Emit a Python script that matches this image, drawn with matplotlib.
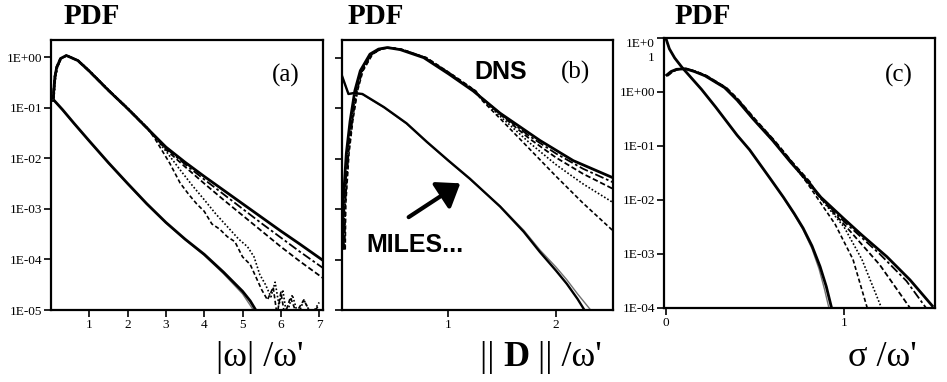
import numpy as np
import matplotlib
matplotlib.use("Agg")
import matplotlib.pyplot as plt
from matplotlib.ticker import NullLocator, FixedLocator, FixedFormatter

SERIF = ["Liberation Serif", "DejaVu Serif"]
SANS = ["Liberation Sans", "DejaVu Sans"]
plt.rcParams["font.family"] = SERIF

# ---------------- data (log10 of PDF values) ----------------
# Panel (a): |omega| / omega'
a_x = [0.05, 0.1, 0.15, 0.25, 0.4, 0.7, 1.0, 1.5, 2.0, 2.5, 3.0, 3.5, 4.0, 4.5, 5.0, 5.5, 6.0, 6.5, 7.1]
a_dns = [-0.88, -0.4, -0.2, -0.03, 0.03, -0.07, -0.28, -0.66, -1.02, -1.4, -1.78, -2.08, -2.36, -2.63, -2.9, -3.17, -3.44, -3.7, -4.02]
a_v1_x = [2.7, 3.0, 3.5, 4.0, 4.5, 5.0, 5.5, 6.0, 6.5, 7.1]
a_v1 = [-1.56, -1.8, -2.12, -2.42, -2.71, -3.0, -3.29, -3.57, -3.85, -4.17]
a_v2_x = [2.7, 3.0, 3.5, 4.0, 4.5, 5.0, 5.5, 6.0, 6.5, 7.1]
a_v2 = [-1.57, -1.83, -2.17, -2.5, -2.82, -3.13, -3.44, -3.75, -4.04, -4.37]
a_v3_x = [2.7, 3.0, 3.37, 3.7, 4.0, 4.3, 4.6, 4.9, 5.13, 5.3, 5.45, 5.6, 5.74, 5.85, 5.95, 6.05, 6.15, 6.3, 6.45, 6.6, 6.8, 7.0]
a_v3 = [-1.58, -1.86, -2.23, -2.55, -2.82, -3.1, -3.35, -3.6, -3.75, -3.95, -4.3, -4.5, -4.74, -4.45, -4.9, -4.6, -5.1, -4.7, -5.1, -4.8, -5.1, -4.85]
a_v4_x = [2.7, 2.9, 3.1, 3.37, 3.6, 3.8, 4.0, 4.2, 4.4, 4.6, 4.8, 5.0, 5.2, 5.35, 5.5, 5.65, 5.8, 5.9, 6.0, 6.1, 6.25, 6.4, 6.6, 6.8, 7.0]
a_v4 = [-1.6, -1.85, -2.1, -2.49, -2.72, -2.9, -3.05, -3.3, -3.4, -3.55, -3.65, -3.95, -4.1, -4.35, -4.6, -4.8, -4.55, -5.1, -4.65, -5.1, -4.75, -5.05, -4.8, -5.1, -4.9]
a_miles_x = [0.06, 0.3, 0.6, 1.0, 1.5, 2.0, 2.5, 3.0, 3.5, 4.0, 4.5, 5.0, 5.2, 5.36]
a_miles = [-0.84, -1.04, -1.31, -1.66, -2.09, -2.5, -2.9, -3.27, -3.6, -3.9, -4.25, -4.63, -4.82, -5.02]
a_miles2_x = [0.06, 0.3, 0.6, 1.0, 1.5, 2.0, 2.5, 3.0, 3.5, 4.0, 4.5, 5.0, 5.15, 5.3]
a_miles2 = [-0.85, -1.05, -1.32, -1.67, -2.1, -2.51, -2.91, -3.28, -3.61, -3.92, -4.28, -4.68, -4.85, -5.02]

# Panel (b): ||D|| / omega'
b_x = [0.015, 0.02, 0.05, 0.085, 0.13, 0.18, 0.27, 0.35, 0.43, 0.55, 0.77, 1.0, 1.23, 1.48, 1.85, 2.16, 2.53]
b_dns = [-3.8, -2.9, -1.9, -1.26, -0.65, -0.26, 0.07, 0.17, 0.2, 0.16, 0.0, -0.32, -0.66, -1.1, -1.64, -2.04, -2.38]
b_tail_x = [1.3, 1.5, 1.75, 2.0, 2.25, 2.53]
b_v1 = [-0.78, -1.14, -1.55, -1.9, -2.2, -2.47]
b_v2 = [-0.79, -1.16, -1.6, -1.98, -2.3, -2.6]
b_v3 = [-0.8, -1.2, -1.68, -2.12, -2.5, -2.87]
b_v4 = [-0.82, -1.25, -1.8, -2.35, -2.88, -3.43]
b_miles_x = [0.01, 0.07, 0.12, 0.2, 0.4, 0.61, 0.8, 1.0, 1.2, 1.48, 1.7, 1.85, 2.0, 2.1, 2.2, 2.27]
b_miles = [-0.36, -0.72, -0.7, -0.72, -0.98, -1.3, -1.67, -2.04, -2.4, -2.95, -3.45, -3.85, -4.22, -4.48, -4.78, -5.02]
b_miles2_x = [0.01, 0.07, 0.12, 0.2, 0.4, 0.61, 0.8, 1.0, 1.2, 1.48, 1.7, 1.85, 2.0, 2.1, 2.2, 2.33]
b_miles2 = [-0.37, -0.72, -0.71, -0.73, -0.99, -1.31, -1.68, -2.05, -2.41, -2.94, -3.42, -3.81, -4.15, -4.4, -4.68, -5.02]

# Panel (c): sigma / omega'
c_x = [0.0, 0.03, 0.06, 0.11, 0.16, 0.22, 0.33, 0.4, 0.49, 0.6, 0.7, 0.8, 0.87, 1.0, 1.1, 1.24, 1.37, 1.5]
c_dns = [0.3, 0.38, 0.42, 0.43, 0.38, 0.3, 0.08, -0.15, -0.5, -0.9, -1.3, -1.67, -1.95, -2.35, -2.65, -3.05, -3.48, -3.98]
c_v1_x = [0.87, 1.0, 1.2, 1.35, 1.46]
c_v1 = [-1.96, -2.4, -3.0, -3.5, -4.0]
c_v2_x = [0.85, 1.0, 1.2, 1.37]
c_v2 = [-1.9, -2.45, -3.2, -4.0]
c_v3_x = [0.8, 1.0, 1.1, 1.21]
c_v3 = [-1.7, -2.5, -3.1, -4.0]
c_v4_x = [0.8, 0.95, 1.05, 1.13]
c_v4 = [-1.72, -2.45, -3.1, -4.0]
c_miles_x = [0.0, 0.02, 0.05, 0.09, 0.2, 0.28, 0.4, 0.47, 0.585, 0.66, 0.72, 0.77, 0.82, 0.865, 0.9, 0.93]
c_miles = [1.0, 0.8, 0.63, 0.46, 0.05, -0.28, -0.8, -1.07, -1.6, -1.95, -2.25, -2.52, -2.85, -3.23, -3.6, -4.0]
c_miles2_x = [0.0, 0.02, 0.05, 0.09, 0.2, 0.28, 0.4, 0.47, 0.585, 0.66, 0.72, 0.77, 0.82, 0.86, 0.89, 0.915]
c_miles2 = [1.0, 0.8, 0.63, 0.46, 0.05, -0.28, -0.8, -1.07, -1.6, -1.96, -2.27, -2.55, -2.9, -3.28, -3.65, -4.0]

a_xticks = [1, 2, 3, 4, 5, 6, 7]
b_xticks = [1, 2]
c_xticks = [0, 1]
a_ylabels = ["1E-05", "1E-04", "1E-03", "1E-02", "1E-01", "1E+00"]
c_ylabels = ["1E-04", "1E-03", "1E-02", "1E-01", "1E+00", "1E+0\n1"]

# ---------------- figure ----------------
W, H = 947, 382
fig = plt.figure(figsize=(W / 100, H / 100), dpi=100)


def rect(l, t, r, b):
    return [l / W, 1 - b / H, (r - l) / W, (b - t) / H]


axA = fig.add_axes(rect(51, 40, 323, 310))
axB = fig.add_axes(rect(342, 40, 613, 310))
axC = fig.add_axes(rect(664, 38, 935, 308))

MAIN = dict(color="black", lw=2.0, solid_capstyle="butt")
GRAY = dict(color="#707070", lw=1.0)
VSTY = [dict(color="black", lw=1.3, ls=(0, (5, 1.5, 1.5, 1.5))),
        dict(color="black", lw=1.3, ls=(0, (3, 1.5))),
        dict(color="black", lw=1.2, ls=(0, (1, 1.2))),
        dict(color="black", lw=1.2, ls=(0, (2.5, 1.5)))]


def P(v):
    return 10 ** np.asarray(v, dtype=float)


def head_tail(hx, hy, tx, ty, dx=0.0):
    hx = np.asarray(hx, float)
    hy = np.asarray(hy, float)
    m = hx < tx[0]
    return np.concatenate([hx[m] + dx, tx]), np.concatenate([hy[m], ty])


# Panel (a)
for (tx, ty), st, dx in zip([(a_v1_x, a_v1), (a_v2_x, a_v2), (a_v3_x, a_v3), (a_v4_x, a_v4)], VSTY,
                            [0.015, -0.01, 0.02, 0.005]):
    x, y = head_tail(a_x, a_dns, tx, ty, dx)
    axA.plot(x, P(y), **st)
axA.plot(a_x, P(a_dns), **MAIN)
axA.plot(a_miles2_x, P(a_miles2), **GRAY)
axA.plot(a_miles_x, P(a_miles), **MAIN)

# Panel (b)
for ty, st, dx in zip([b_v1, b_v2, b_v3, b_v4], VSTY, [0.012, 0.02, 0.008, 0.025]):
    x, y = head_tail(b_x, b_dns, b_tail_x, ty, dx)
    axB.plot(x, P(y), **st)
axB.plot(b_x, P(b_dns), **MAIN)
axB.plot(b_miles2_x, P(b_miles2), **GRAY)
axB.plot(b_miles_x, P(b_miles), color="black", lw=1.7)

# Panel (c)
for (tx, ty), st, dx in zip([(c_v1_x, c_v1), (c_v2_x, c_v2), (c_v3_x, c_v3), (c_v4_x, c_v4)], VSTY,
                            [0.005, 0.01, 0.0, 0.008]):
    x, y = head_tail(c_x, c_dns, tx, ty, dx)
    axC.plot(x, P(y), **st)
axC.plot(c_x, P(c_dns), **MAIN)
axC.plot(c_miles2_x, P(c_miles2), **GRAY)
axC.plot(c_miles_x, P(c_miles), **MAIN)

# axes styling
for ax in (axA, axB, axC):
    ax.set_yscale("log")
    ax.yaxis.set_minor_locator(NullLocator())
    ax.xaxis.set_minor_locator(NullLocator())
    for sp in ax.spines.values():
        sp.set_linewidth(1.6)
    ax.tick_params(direction="out", length=5, width=1.2, labelsize=9.5, pad=1.5)

axA.set_xlim(0, 7.1)
axA.set_ylim(1e-5, 10 ** 0.336)
axA.xaxis.set_major_locator(FixedLocator(a_xticks))
axA.set_xticklabels([str(t) for t in a_xticks])
axA.yaxis.set_major_locator(FixedLocator([1e-5, 1e-4, 1e-3, 1e-2, 1e-1, 1e0]))
axA.yaxis.set_major_formatter(FixedFormatter(a_ylabels))

axB.set_xlim(0.01, 2.53)
axB.set_ylim(1e-5, 10 ** 0.35)
axB.xaxis.set_major_locator(FixedLocator(b_xticks))
axB.set_xticklabels([str(t) for t in b_xticks])
axB.yaxis.set_major_locator(FixedLocator([1e-5, 1e-4, 1e-3, 1e-2, 1e-1, 1e0]))
axB.yaxis.set_major_formatter(FixedFormatter([""] * 6))

axC.set_xlim(-0.01, 1.51)
axC.set_ylim(1e-4, 1e1)
axC.xaxis.set_major_locator(FixedLocator(c_xticks))
axC.set_xticklabels([str(t) for t in c_xticks])
axC.yaxis.set_major_locator(FixedLocator([1e-4, 1e-3, 1e-2, 1e-1, 1e0, 1e1]))
axC.yaxis.set_major_formatter(FixedFormatter(c_ylabels))
fig.canvas.draw()
toplab = axC.get_yticklabels()[-1]
toplab.set_verticalalignment("top")
toplab.set_linespacing(1.2)

# panel letters and annotations
axA.text(0.864, 0.87, "(a)", transform=axA.transAxes, ha="center", va="center", fontsize=18)
axB.text(0.86, 0.88, "(b)", transform=axB.transAxes, ha="center", va="center", fontsize=18)
axC.text(0.868, 0.863, "(c)", transform=axC.transAxes, ha="center", va="center", fontsize=18)
axB.text(0.587, 0.88, "DNS", transform=axB.transAxes, ha="center", va="center",
         fontsize=18, fontweight="bold", family=SANS)
axB.text(0.27, 0.24, "MILES...", transform=axB.transAxes, ha="center", va="center",
         fontsize=18, fontweight="bold", family=SANS)
arrow_tail = (0.63, 10 ** -3.16)
arrow_tip = (1.11, 10 ** -2.49)
axB.annotate("", xy=arrow_tip, xytext=arrow_tail,
             arrowprops=dict(arrowstyle="-|>,head_length=0.55,head_width=0.4", lw=3.0,
                             color="black", mutation_scale=24, shrinkA=0, shrinkB=0))

# "PDF" headers
for xc in (92, 376, 703):
    fig.text(xc / W, 1 - 16 / H, "PDF", ha="center", va="center", fontsize=21, fontweight="bold")


# x-axis labels built from pieces
def piece_label(xc, yc, pieces, size=26):
    r = fig.canvas.get_renderer()
    objs = []
    widths = []
    for txt, wt in pieces:
        t = fig.text(0, yc / H, txt, ha="left", va="center", fontsize=size, fontweight=wt)
        bb = t.get_window_extent(renderer=r)
        objs.append(t)
        widths.append(bb.width)
    x = xc - sum(widths) / 2
    for t, w in zip(objs, widths):
        t.set_x(x / W)
        x += w


piece_label(260, H - 358, [("|\u03c9| /\u03c9'", "normal")])
piece_label(541, H - 358, [("|| ", "normal"), ("D", "bold"), (" || /\u03c9'", "normal")])
piece_label(882, H - 358, [("\u03c3 /\u03c9'", "normal")])

fig.savefig("out.png", dpi=100)
